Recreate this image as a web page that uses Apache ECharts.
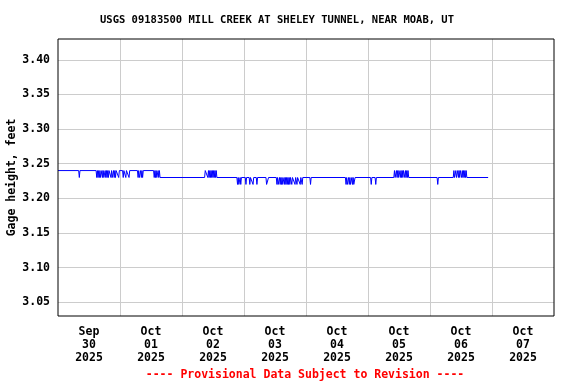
<!DOCTYPE html>
<html>
<head>
<meta charset="utf-8">
<script src="https://cdn.jsdelivr.net/npm/echarts@6/dist/echarts.min.js"></script>
<style>html,body{margin:0;padding:0;background:#fff}#c{width:576px;height:384px}</style>
</head>
<body>
<div id="c"></div>
<script>
const titleText = 'USGS 09183500 MILL CREEK AT SHELEY TUNNEL, NEAR MOAB, UT';
const footerText = '---- Provisional Data Subject to Revision ----';
const yAxisName = 'Gage height, feet';
const dayLabels = ['Sep\n30\n2025','Oct\n01\n2025','Oct\n02\n2025','Oct\n03\n2025','Oct\n04\n2025','Oct\n05\n2025','Oct\n06\n2025','Oct\n07\n2025'];
const yRange = [3.03, 3.43];
const xRangeHours = [0, 192];

// Gage height readings (time 'MM-DD HH:MM', feet)
const readings = [
['09-30 00:00',3.24],
['09-30 08:00',3.24],['09-30 08:15',3.23],['09-30 08:30',3.24],
['09-30 14:45',3.24],['09-30 15:00',3.23],['09-30 15:15',3.24],['09-30 15:30',3.23],['09-30 15:45',3.24],['09-30 16:00',3.23],['09-30 16:15',3.24],['09-30 16:30',3.23],['09-30 16:45',3.23],['09-30 17:00',3.24],['09-30 17:15',3.23],['09-30 17:30',3.24],['09-30 17:45',3.23],['09-30 18:00',3.23],['09-30 18:15',3.24],['09-30 18:30',3.23],['09-30 18:45',3.24],['09-30 19:00',3.23],['09-30 19:15',3.24],['09-30 19:30',3.23],['09-30 19:45',3.24],
['09-30 20:15',3.24],['09-30 20:30',3.23],['09-30 20:45',3.24],['09-30 21:00',3.23],['09-30 21:15',3.23],['09-30 21:30',3.24],['09-30 21:45',3.23],['09-30 22:00',3.24],['09-30 22:15',3.23],['09-30 22:30',3.24],
['09-30 23:15',3.24],['09-30 23:30',3.23],['09-30 23:45',3.24],
['10-01 01:00',3.24],['10-01 01:15',3.23],['10-01 01:30',3.24],
['10-01 02:00',3.24],['10-01 02:15',3.23],['10-01 02:30',3.24],
['10-01 03:15',3.24],['10-01 03:30',3.23],['10-01 03:45',3.24],
['10-01 06:45',3.24],['10-01 07:00',3.23],['10-01 07:15',3.24],['10-01 07:30',3.23],['10-01 07:45',3.23],['10-01 08:00',3.24],['10-01 08:15',3.23],['10-01 08:30',3.24],['10-01 08:45',3.23],['10-01 09:00',3.24],
['10-01 13:00',3.24],['10-01 13:15',3.23],['10-01 13:30',3.24],['10-01 13:45',3.23],['10-01 14:00',3.24],['10-01 14:15',3.23],['10-01 14:30',3.23],['10-01 14:45',3.24],['10-01 15:00',3.23],['10-01 15:15',3.24],['10-01 15:30',3.23],
['10-02 08:45',3.23],['10-02 09:00',3.24],['10-02 09:45',3.24],['10-02 10:00',3.23],['10-02 10:15',3.24],['10-02 10:30',3.23],['10-02 10:45',3.24],['10-02 11:00',3.23],['10-02 11:15',3.24],['10-02 11:30',3.23],['10-02 11:45',3.24],['10-02 12:00',3.23],['10-02 12:15',3.24],['10-02 12:30',3.23],['10-02 12:45',3.24],['10-02 13:00',3.23],['10-02 13:15',3.24],['10-02 13:30',3.23],
['10-02 21:15',3.23],['10-02 21:30',3.22],['10-02 21:45',3.23],['10-02 22:00',3.22],['10-02 22:15',3.22],['10-02 22:30',3.23],['10-02 22:45',3.22],['10-02 23:00',3.23],
['10-03 00:30',3.23],['10-03 00:45',3.22],['10-03 01:00',3.23],
['10-03 02:00',3.23],['10-03 02:15',3.22],['10-03 02:30',3.23],
['10-03 03:15',3.23],['10-03 03:30',3.22],['10-03 03:45',3.23],
['10-03 04:45',3.23],['10-03 05:00',3.22],['10-03 05:15',3.23],
['10-03 08:30',3.23],['10-03 08:45',3.22],['10-03 09:15',3.22],['10-03 09:30',3.23],
['10-03 12:30',3.23],['10-03 12:45',3.22],['10-03 13:00',3.23],['10-03 13:15',3.22],['10-03 13:30',3.22],['10-03 13:45',3.23],['10-03 14:00',3.22],['10-03 14:15',3.23],['10-03 14:30',3.22],['10-03 14:45',3.23],['10-03 15:00',3.22],['10-03 15:15',3.22],['10-03 15:30',3.23],['10-03 15:45',3.22],['10-03 16:00',3.23],['10-03 16:15',3.22],['10-03 16:30',3.23],['10-03 16:45',3.22],['10-03 17:00',3.23],['10-03 17:15',3.22],['10-03 17:30',3.23],['10-03 17:45',3.22],['10-03 18:00',3.23],
['10-03 18:15',3.23],['10-03 18:30',3.22],['10-03 18:45',3.23],
['10-03 19:30',3.23],['10-03 19:45',3.22],['10-03 20:00',3.23],
['10-03 20:15',3.23],['10-03 20:30',3.22],['10-03 20:45',3.23],
['10-03 21:30',3.23],['10-03 21:45',3.22],['10-03 22:00',3.23],
['10-03 22:15',3.23],['10-03 22:30',3.22],['10-03 22:45',3.23],
['10-04 01:30',3.23],['10-04 01:45',3.22],['10-04 02:00',3.23],
['10-04 15:15',3.23],['10-04 15:30',3.22],['10-04 15:45',3.23],['10-04 16:00',3.22],['10-04 16:15',3.22],['10-04 16:30',3.23],['10-04 16:45',3.22],['10-04 17:00',3.23],['10-04 17:15',3.22],['10-04 17:30',3.22],['10-04 17:45',3.23],['10-04 18:00',3.22],['10-04 18:15',3.23],['10-04 18:30',3.22],['10-04 18:45',3.22],['10-04 19:00',3.23],
['10-05 01:00',3.23],['10-05 01:15',3.22],['10-05 01:30',3.23],
['10-05 02:45',3.23],['10-05 03:00',3.22],['10-05 03:15',3.23],
['10-05 10:00',3.23],['10-05 10:15',3.24],['10-05 10:30',3.23],['10-05 10:45',3.23],['10-05 11:00',3.24],['10-05 11:15',3.23],['10-05 11:30',3.24],['10-05 11:45',3.23],['10-05 12:00',3.24],['10-05 12:15',3.24],['10-05 12:30',3.23],['10-05 12:45',3.24],['10-05 13:00',3.23],['10-05 13:15',3.24],['10-05 13:30',3.23],['10-05 13:45',3.24],['10-05 14:00',3.24],['10-05 14:15',3.23],['10-05 14:30',3.24],['10-05 14:45',3.23],['10-05 15:00',3.24],['10-05 15:15',3.23],['10-05 15:30',3.24],['10-05 15:45',3.23],
['10-06 02:45',3.23],['10-06 03:00',3.22],['10-06 03:15',3.23],
['10-06 09:00',3.23],['10-06 09:15',3.24],['10-06 09:30',3.23],['10-06 09:45',3.23],['10-06 10:00',3.24],['10-06 10:15',3.23],['10-06 10:30',3.23],['10-06 10:45',3.24],['10-06 11:00',3.23],['10-06 11:15',3.24],['10-06 11:30',3.23],['10-06 11:45',3.24],['10-06 12:00',3.24],['10-06 12:15',3.23],['10-06 12:30',3.24],['10-06 12:45',3.23],['10-06 13:00',3.24],['10-06 13:15',3.23],['10-06 13:30',3.24],['10-06 13:45',3.23],['10-06 14:00',3.24],['10-06 14:15',3.23],
['10-06 22:30',3.23]
];

const START = Date.UTC(2025, 8, 30, 0, 0);
function toHours(s) {
  const m = +s.slice(0,2), d = +s.slice(3,5), hh = +s.slice(6,8), mm = +s.slice(9,11);
  return (Date.UTC(2025, m - 1, d, hh, mm) - START) / 3600000;
}
const seriesData = readings.map(r => [toHours(r[0]), r[1]]);

const FONT = 'DejaVu Sans Mono';
const chart = echarts.init(document.getElementById('c'), null, {renderer: 'canvas'});
chart.setOption({
  animation: false,
  backgroundColor: '#fff',
  grid: {left: 58, right: 22, top: 39, bottom: 68, containLabel: false, outerBoundsMode: 'none',
         show: true, borderColor: '#000', borderWidth: 1, backgroundColor: 'transparent', z: 10},
  graphic: [
    {type: 'text', x: 277, y: 20, z: 10, style: {text: titleText, font: 'bold 10.5px "DejaVu Sans Mono"', fill: '#000', textAlign: 'center', textVerticalAlign: 'middle'}},
    {type: 'text', x: 305, y: 375, z: 10, style: {text: footerText, font: 'bold 11.5px "DejaVu Sans Mono"', fill: '#ff0000', textAlign: 'center', textVerticalAlign: 'middle'}}
  ],
  xAxis: [
    {type: 'value', min: xRangeHours[0], max: xRangeHours[1], interval: 24,
     axisLine: {show: false}, axisTick: {show: false}, axisLabel: {show: false},
     splitLine: {show: true, showMinLine: false, showMaxLine: false, lineStyle: {color: '#cccccc', width: 1}}},
    {type: 'value', min: xRangeHours[0], max: xRangeHours[1], interval: 12, position: 'bottom',
     axisLine: {show: false}, axisTick: {show: false}, splitLine: {show: false},
     axisLabel: {show: true, margin: 10, color: '#000', fontFamily: FONT, fontWeight: 'bold', fontSize: 11.5, lineHeight: 13, align: 'center',
       showMinLabel: true, showMaxLabel: true,
       formatter: v => (v % 24 === 12) ? dayLabels[(v - 12) / 24] : ''}}
  ],
  yAxis: {type: 'value', min: yRange[0], max: yRange[1], splitNumber: 8,
    name: yAxisName, nameLocation: 'middle', nameGap: 40, nameRotate: 90, nameMoveOverlap: false,
    nameTextStyle: {color: '#000', fontFamily: FONT, fontWeight: 'bold', fontSize: 11.5},
    axisLine: {show: false}, axisTick: {show: false},
    splitLine: {show: true, showMinLine: false, showMaxLine: false, lineStyle: {color: '#cccccc', width: 1}},
    axisLabel: {color: '#000', fontFamily: FONT, fontWeight: 'bold', fontSize: 11.5, margin: 8,
      formatter: v => (Math.abs(Math.round(v * 100) % 5) === 0) ? v.toFixed(2) : ''}},
  series: [{
    type: 'line', xAxisIndex: 0, data: seriesData, symbol: 'none', showSymbol: false,
    lineStyle: {color: '#0000ff', width: 1}, silent: true, z: 5
  }]
});
</script>
</body>
</html>
